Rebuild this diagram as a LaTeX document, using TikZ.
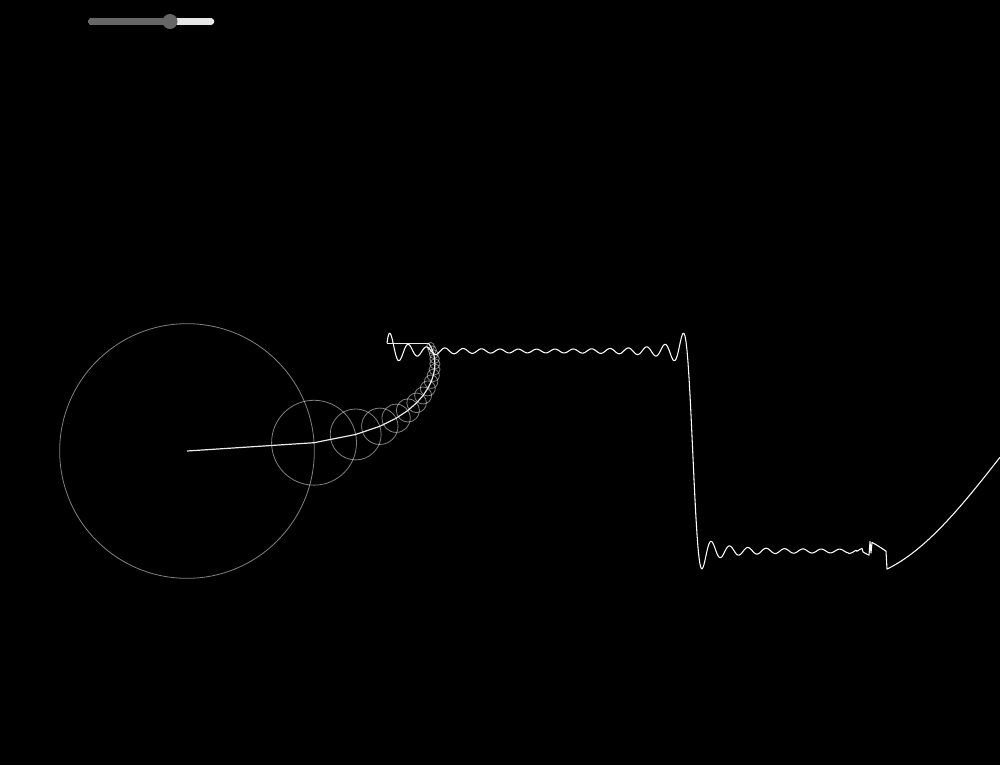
\documentclass[tikz,border=0pt]{standalone}
\usepackage{tikz}
\definecolor{knobgray}{HTML}{666666}
\definecolor{tracklight}{HTML}{E6E6E6}
\def\wphase{3.74}
\def\wstep{0.5766}
\begin{document}
\begin{tikzpicture}[x=0.75pt,y=-0.75pt,
  epicycle/.style={white, opacity=0.5, line width=0.6pt},
  arm/.style={white!92!black, line width=0.9pt, line join=round},
  wave/.style={white, line width=0.8pt, line join=round},
  track/.style={line width=4.9pt, line cap=round},
  declare function={
    p1(\t)=sin(\t);            p2(\t)=p1(\t)+sin(3*\t)/3;
    p3(\t)=p2(\t)+sin(5*\t)/5;   p4(\t)=p3(\t)+sin(7*\t)/7;
    p5(\t)=p4(\t)+sin(9*\t)/9;   p6(\t)=p5(\t)+sin(11*\t)/11;
    p7(\t)=p6(\t)+sin(13*\t)/13; p8(\t)=p7(\t)+sin(15*\t)/15;
    p9(\t)=p8(\t)+sin(17*\t)/17; p10(\t)=p9(\t)+sin(19*\t)/19;
    p11(\t)=p10(\t)+sin(21*\t)/21; p12(\t)=p11(\t)+sin(23*\t)/23;
    p13(\t)=p12(\t)+sin(25*\t)/25; p14(\t)=p13(\t)+sin(27*\t)/27;
    p15(\t)=p14(\t)+sin(29*\t)/29; p16(\t)=p15(\t)+sin(31*\t)/31;
    p17(\t)=p16(\t)+sin(33*\t)/33;}]
\useasboundingbox (0,0) rectangle (1000,765);
\fill[black] (0,0) rectangle (1000,765);

% slider
\coordinate (track l) at (91.5,21.5);
\coordinate (track r) at (211,21.5);
\coordinate (knob) at (170,21.5);
\draw[track, tracklight] (track l) -- (track r);
\draw[track, knobgray] (track l) -- (knob);
\fill[knobgray] (knob) circle[radius=7.5];

% epicycles
\coordinate (c0) at (187,451);
\foreach \n [remember=\n as \m (initially 0)] in {1,...,17}{
  \pgfmathsetmacro\h{2*\n-1}
  \pgfmathsetmacro\rad{127.324/\h}
  \path (c\m) ++({-\h*\wphase}:\rad) coordinate (c\n);
  \draw[epicycle] (c\m) circle[radius=\rad];
}
\draw[arm] (c0) \foreach \n in {1,...,17}{ -- (c\n)};
\coordinate (w0) at (387,0 |- c17);
\draw[arm] (c17) -- (w0);

% wave
\draw[wave] plot[domain=0:461, samples=462] ({387+\x},{451-127.324*p17(\wphase+\wstep*\x)})
  \foreach \k/\n in {462/13,463/13,464/13,465/13,466/13,467/13,468/13,469/13,
      470/9,471/9,472/9,473/9,474/9,475/9,476/6,477/6,478/6,479/6,480/6,481/6,
      482/6,483/2,484/3,485/2,486/2}{
    -- ({387+\k},{451-127.324*p\n(\wphase+\wstep*\k)})}
  -- plot[domain=487:499, samples=13] ({387+\x},{451-127.324*p2(\wphase+\wstep*\x)})
  -- plot[domain=500:613, samples=114] ({387+\x},{451-127.324*p1(\wphase+\wstep*\x)});
\end{tikzpicture}
\end{document}
